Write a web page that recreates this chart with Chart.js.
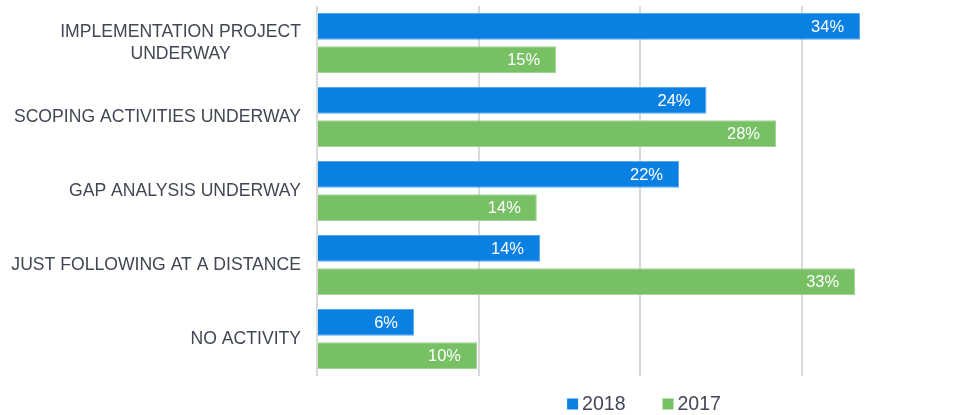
<!DOCTYPE html>
<html>
<head>
<meta charset="utf-8">
<script src="https://cdn.jsdelivr.net/npm/chart.js@4"></script>
<style>
  html, body { margin: 0; padding: 0; background: #fff; }
  #wrap { width: 953px; height: 415px; }
</style>
</head>
<body>
<div id="wrap"><canvas id="surveyChart"></canvas></div>
<script>
const categories = [
  ["IMPLEMENTATION PROJECT", "UNDERWAY"],
  ["SCOPING ACTIVITIES UNDERWAY"],
  ["GAP ANALYSIS UNDERWAY"],
  ["JUST FOLLOWING AT A DISTANCE"],
  ["NO ACTIVITY"],
];
const values2018 = [33.6, 24.1, 22.4, 13.8, 6.0];
const values2017 = [14.8, 28.4, 13.6, 33.3, 9.9];
const labels2018 = ["34%", "24%", "22%", "14%", "6%"];
const labels2017 = ["15%", "28%", "14%", "33%", "10%"];
const gridTicks = [0, 10, 20, 30];

const textColor = "#414753";
const fontFamily = "'Liberation Sans', Arial, sans-serif";

// white value labels inside the bar ends
const barLabels = {
  id: "barLabels",
  afterDatasetsDraw(chart) {
    const ctx = chart.ctx;
    ctx.save();
    ctx.font = "16.5px " + fontFamily;
    ctx.fillStyle = "#ffffff";
    ctx.textAlign = "right";
    ctx.textBaseline = "middle";
    chart.data.datasets.forEach((ds, i) => {
      chart.getDatasetMeta(i).data.forEach((bar, j) => {
        ctx.fillText(ds.valueLabels[j], bar.x - 16, bar.y + 1);
      });
    });
    ctx.restore();
  },
};

// category labels (lines centred on each other) and a compact legend
const sideText = {
  id: "sideText",
  afterDraw(chart) {
    const ctx = chart.ctx;
    const area = chart.chartArea;
    const yScale = chart.scales.y;
    const right = area.left - 16;
    const lineH = 22;
    ctx.save();
    ctx.font = "17.6px " + fontFamily;
    ctx.fillStyle = textColor;
    ctx.textAlign = "center";
    ctx.textBaseline = "middle";
    categories.forEach((lines, i) => {
      const w = Math.max(...lines.map((l) => ctx.measureText(l).width));
      const cx = right - w / 2;
      const cy = yScale.getPixelForValue(i) - ((lines.length - 1) * lineH) / 2;
      lines.forEach((l, k) => ctx.fillText(l, cx, cy + k * lineH));
    });

    // legend
    ctx.font = "19.5px " + fontFamily;
    ctx.textAlign = "left";
    const box = 11, textGap = 4, itemGap = 37;
    const items = chart.data.datasets.map((ds) => ({
      text: ds.label,
      color: ds.backgroundColor,
      w: box + textGap + ctx.measureText(ds.label).width,
    }));
    const total = items.reduce((s, it) => s + it.w, 0) + itemGap * (items.length - 1);
    let x = (area.left + area.right) / 2 + 9 - total / 2;
    const y = 404;
    items.forEach((it) => {
      ctx.fillStyle = it.color;
      ctx.fillRect(x, y - box / 2, box, box);
      ctx.fillStyle = textColor;
      ctx.fillText(it.text, x + box + textGap, y + 1);
      x += it.w + itemGap;
    });
    ctx.restore();
  },
};

new Chart(document.getElementById("surveyChart"), {
  type: "bar",
  data: {
    labels: categories.map((c) => c.join(" ")),
    datasets: [
      {
        label: "2018",
        data: values2018,
        valueLabels: labels2018,
        backgroundColor: "#0a80e3",
        borderColor: "#5aa8ec",
        borderWidth: 1,
        categoryPercentage: 0.9,
        barPercentage: 0.8,
      },
      {
        label: "2017",
        data: values2017,
        valueLabels: labels2017,
        backgroundColor: "#77c063",
        borderColor: "#a2d493",
        borderWidth: 1,
        categoryPercentage: 0.9,
        barPercentage: 0.8,
      },
    ],
  },
  options: {
    indexAxis: "y",
    responsive: true,
    maintainAspectRatio: false,
    animation: false,
    layout: { padding: { left: 317, top: 6, right: 0, bottom: 39 } },
    scales: {
      x: {
        min: 0,
        max: 39.35,
        afterBuildTicks: (scale) => {
          scale.ticks = gridTicks.map((v) => ({ value: v }));
        },
        ticks: { display: false },
        grid: { color: "#d9d9d9", lineWidth: 2, drawTicks: false },
        border: { display: false },
      },
      y: {
        ticks: { display: false },
        grid: { display: false, drawTicks: false },
        border: { display: false },
      },
    },
    plugins: {
      legend: { display: false },
      tooltip: { enabled: false },
    },
  },
  plugins: [barLabels, sideText],
});
</script>
</body>
</html>
